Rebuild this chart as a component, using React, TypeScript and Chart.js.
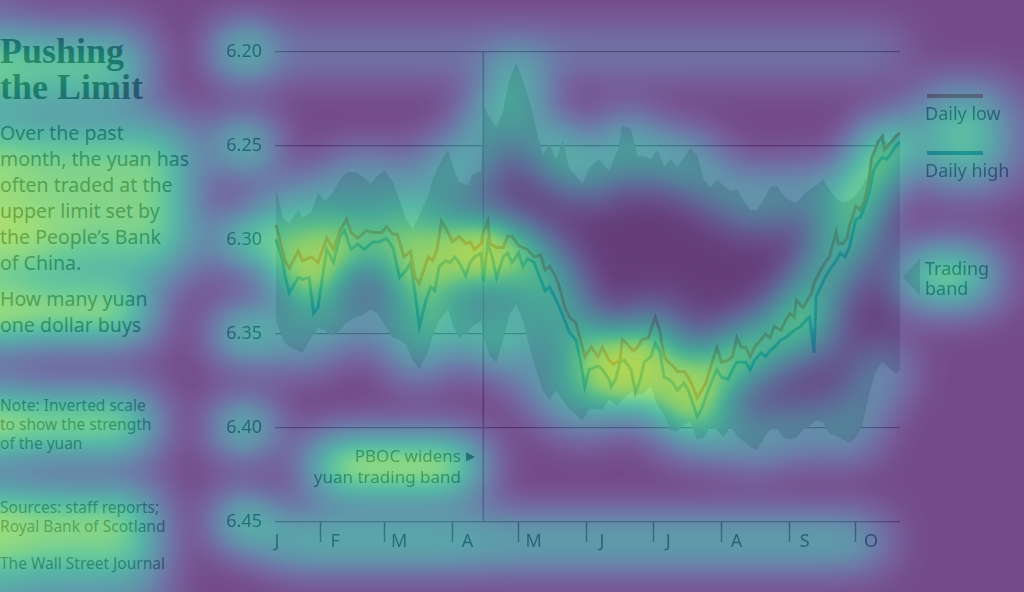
import React, { useEffect, useRef } from "react";
import { Chart, registerables } from "chart.js";

Chart.register(...registerables);

// ---------- data ----------
const monthTickDays = [4.6, 31, 60, 91, 121, 152, 182, 213, 244, 274];
const monthLabels = ["J", "F", "M", "A", "M", "J", "J", "A", "S", "O"];
const yTicks = [6.2, 6.25, 6.3, 6.35, 6.4, 6.45];
const pbocDay = 105;

const lowDays = [11,15,17,21,23,27,30,34,37,40,43,45,48,52,55,59,61,64,66,69,72,74,76,80,82,84,86,89,91,94,97,99,101,104,105,107,108,111,114,116,118,121,123,125,128,131,133,135,138,140,142,144,147,149,151,154,157,159,162,164,167,168,170,173,175,177,180,182,183,185,187,189,191,193,196,198,200,202,204,206,209,211,213,216,218,220,222,224,226,228,231,233,235,237,240,242,244,246,247,250,252,254,255,258,260,262,265,266,268,270,271,274,276,278,280,281,284,286,287,290,292,294];
const lowValues = [6.292,6.311,6.315,6.306,6.311,6.309,6.312,6.299,6.305,6.295,6.289,6.296,6.299,6.295,6.296,6.296,6.293,6.297,6.297,6.309,6.306,6.320,6.323,6.309,6.311,6.305,6.290,6.296,6.301,6.298,6.302,6.301,6.305,6.302,6.296,6.290,6.302,6.304,6.304,6.298,6.298,6.303,6.304,6.305,6.309,6.308,6.316,6.314,6.320,6.327,6.336,6.341,6.344,6.353,6.362,6.357,6.362,6.357,6.364,6.366,6.364,6.353,6.355,6.359,6.357,6.353,6.352,6.344,6.341,6.348,6.362,6.365,6.367,6.370,6.370,6.373,6.378,6.384,6.380,6.376,6.364,6.357,6.365,6.364,6.362,6.352,6.357,6.357,6.362,6.357,6.353,6.350,6.352,6.346,6.348,6.343,6.339,6.341,6.332,6.336,6.332,6.328,6.323,6.316,6.312,6.309,6.296,6.302,6.302,6.299,6.293,6.282,6.284,6.279,6.268,6.257,6.248,6.245,6.252,6.248,6.245,6.243];

const highDays = [11,14,15,17,21,23,26,28,30,32,34,37,40,42,45,48,51,55,58,61,64,67,70,72,74,76,79,81,83,85,88,90,92,94,97,99,101,104,105,107,109,111,114,116,118,121,123,125,128,131,133,135,138,140,142,144,147,149,151,153,157,159,162,163,165,167,169,172,174,176,178,181,183,185,187,189,191,193,196,198,200,202,204,206,209,211,213,216,218,220,222,224,226,228,231,233,235,237,240,242,244,246,249,251,253,255,256,258,260,262,265,267,269,271,274,276,278,280,282,284,286,288,290,292,294];
const highValues = [6.300,6.311,6.319,6.328,6.320,6.321,6.320,6.339,6.336,6.320,6.305,6.312,6.298,6.295,6.305,6.302,6.305,6.301,6.301,6.299,6.304,6.320,6.316,6.312,6.328,6.346,6.332,6.325,6.327,6.314,6.311,6.312,6.309,6.312,6.319,6.312,6.309,6.307,6.322,6.302,6.309,6.320,6.309,6.307,6.312,6.307,6.314,6.310,6.312,6.321,6.327,6.325,6.332,6.337,6.343,6.349,6.353,6.364,6.378,6.369,6.367,6.369,6.374,6.378,6.374,6.365,6.364,6.369,6.381,6.375,6.365,6.362,6.355,6.359,6.373,6.374,6.376,6.380,6.376,6.380,6.387,6.394,6.390,6.383,6.374,6.369,6.373,6.374,6.369,6.365,6.365,6.365,6.369,6.364,6.360,6.362,6.359,6.357,6.353,6.352,6.350,6.348,6.346,6.343,6.341,6.360,6.330,6.325,6.320,6.316,6.311,6.307,6.309,6.304,6.289,6.288,6.282,6.275,6.263,6.259,6.256,6.257,6.254,6.250,6.248];

const bandDays = [11,14,17,21,23,27,30,33,36,40,43,47,50,54,57,60,64,67,70,73,76,80,82,85,89,91,94,98,100,104,105,108,111,114,117,120,123,126,129,132,135,138,141,144,147,150,153,157,159,162,166,168,172,175,177,181,184,187,190,193,196,199,202,205,208,211,214,217,220,223,226,229,232,235,238,241,244,247,250,253,256,259,262,265,268,271,274,277,280,283,286,289,292,294];
const bandUpper = [6.273,6.288,6.291,6.284,6.288,6.285,6.275,6.279,6.276,6.268,6.264,6.264,6.266,6.270,6.266,6.263,6.269,6.279,6.289,6.294,6.287,6.276,6.268,6.260,6.252,6.260,6.269,6.271,6.265,6.263,6.229,6.235,6.240,6.231,6.214,6.206,6.215,6.226,6.241,6.255,6.249,6.257,6.247,6.262,6.266,6.270,6.262,6.257,6.259,6.263,6.252,6.239,6.241,6.256,6.255,6.257,6.252,6.261,6.257,6.261,6.256,6.251,6.255,6.268,6.272,6.268,6.271,6.274,6.273,6.279,6.284,6.284,6.279,6.272,6.271,6.276,6.279,6.280,6.276,6.273,6.271,6.268,6.273,6.278,6.280,6.279,6.276,6.271,6.264,6.253,6.247,6.248,6.245,6.244];
const bandLower = [6.343,6.353,6.357,6.359,6.360,6.352,6.347,6.348,6.351,6.348,6.344,6.341,6.340,6.337,6.339,6.345,6.352,6.353,6.356,6.364,6.369,6.359,6.351,6.343,6.337,6.345,6.352,6.349,6.346,6.343,6.351,6.362,6.365,6.353,6.339,6.334,6.343,6.357,6.369,6.380,6.385,6.380,6.385,6.390,6.393,6.396,6.390,6.390,6.390,6.385,6.388,6.385,6.381,6.382,6.382,6.378,6.388,6.393,6.401,6.402,6.398,6.397,6.406,6.405,6.399,6.401,6.405,6.399,6.404,6.407,6.410,6.412,6.406,6.401,6.400,6.405,6.406,6.405,6.401,6.399,6.396,6.397,6.403,6.404,6.406,6.408,6.405,6.398,6.382,6.370,6.365,6.368,6.371,6.369];

// ---------- style ----------
const W = 1024;
const H = 592;
const LOW_COLOR = "#b9553f";
const HIGH_COLOR = "#1f7fa3";
const BAND_COLOR = "#c4c8c0";
const TEXT = "#1e2a30";
const OVERLAY_OPACITY = 0.75;
const SIGMA = 22.5;

// viridis colour map
const VIR: number[][] = [
  [68, 1, 84], [72, 40, 120], [62, 73, 137], [49, 104, 142], [38, 130, 142],
  [31, 158, 137], [53, 183, 121], [110, 206, 88], [181, 222, 43], [253, 231, 37],
];

// attention sources (before blur): x0,y0,x1,y1,target level
const HEAT_RECTS: number[][] = [
  [0, 0, 14, 592, 0.1],
  [0, 37, 143, 100, 0.58],
  [0, 125, 190, 272, 0.7],
  [0, 225, 60, 262, 0.1],
  [0, 292, 150, 333, 0.68],
  [0, 398, 152, 450, 0.66],
  [0, 500, 155, 535, 0.63],
  [0, 556, 158, 574, 0.46],
  [268, 533, 880, 550, 0.38],
  [268, 533, 480, 550, 0.06],
  [313, 447, 478, 486, 0.74],
  [922, 93, 1005, 181, 0.55],
  [903, 258, 990, 296, 0.6],
  [275, 50, 900, 54, 0.16],
  [295, 255, 340, 280, 0.14],
  [440, 238, 490, 262, 0.14],
  [595, 350, 640, 378, 0.13],
  [680, 375, 705, 398, 0.12],
];
const Y_LABEL_HEAT = 0.42;
const LINE_AMP = 2.2;
const EDGE_AMP = 3.4;

function erf(x: number) {
  const t = 1 / (1 + 0.3275911 * x);
  return 1 - ((((1.061405429 * t - 1.453152027) * t + 1.421413741) * t - 0.284496736) * t + 0.254829592) * t * Math.exp(-x * x);
}

function viridis(t: number): number[] {
  const s = Math.max(0, Math.min(1, t)) * (VIR.length - 1);
  const k = Math.min(VIR.length - 2, Math.floor(s));
  const f = s - k;
  const a = VIR[k];
  const b = VIR[k + 1];
  return [a[0] + (b[0] - a[0]) * f, a[1] + (b[1] - a[1]) * f, a[2] + (b[2] - a[2]) * f];
}

function boxBlur(src: Float32Array, w: number, h: number, r: number) {
  const tmp = new Float32Array(w * h);
  const n = 2 * r + 1;
  for (let y = 0; y < h; y++) {
    const row = y * w;
    let acc = 0;
    for (let x = -r; x <= r; x++) acc += src[row + Math.min(w - 1, Math.max(0, x))];
    for (let x = 0; x < w; x++) {
      tmp[row + x] = acc / n;
      acc += src[row + Math.min(w - 1, x + r + 1)] - src[row + Math.max(0, x - r)];
    }
  }
  for (let x = 0; x < w; x++) {
    let acc = 0;
    for (let y = -r; y <= r; y++) acc += tmp[Math.min(h - 1, Math.max(0, y)) * w + x];
    for (let y = 0; y < h; y++) {
      src[y * w + x] = acc / n;
      acc += tmp[Math.min(h - 1, y + r + 1) * w + x] - tmp[Math.max(0, y - r) * w + x];
    }
  }
}

function buildHeat(chart: any, overlay: HTMLCanvasElement) {
  const src = new Float32Array(W * H);
  const addRect = (x0: number, y0: number, x1: number, y1: number, target: number) => {
    const ew = x0 <= 0 ? 400 : x1 - x0;
    const eh = y1 - y0;
    const k = erf(ew / (2.828 * SIGMA)) * erf(eh / (2.828 * SIGMA));
    const v = target / Math.max(0.02, k);
    for (let y = Math.max(0, Math.round(y0)); y < Math.min(H, Math.round(y1)); y++) {
      for (let x = Math.max(0, Math.round(x0)); x < Math.min(W, Math.round(x1)); x++) src[y * W + x] += v;
    }
  };
  HEAT_RECTS.forEach((r) => addRect(r[0], r[1], r[2], r[3], r[4]));
  const ys = chart.scales.y;
  const xs = chart.scales.x;
  yTicks.forEach((t) => {
    const py = ys.getPixelForValue(t);
    addRect(226, py - 8, 262, py + 8, Y_LABEL_HEAT);
  });

  // rasterise the lines (red channel) and band edges (green channel)
  const off = document.createElement("canvas");
  off.width = W;
  off.height = H;
  const c = off.getContext("2d")!;
  c.globalCompositeOperation = "lighter";
  c.lineJoin = "round";
  c.lineCap = "round";
  const strokeSeries = (days: number[], vals: number[], color: string, width: number) => {
    c.beginPath();
    days.forEach((d, i) => {
      const px = xs.getPixelForValue(d);
      const py = ys.getPixelForValue(vals[i]);
      if (i === 0) c.moveTo(px, py);
      else c.lineTo(px, py);
    });
    c.strokeStyle = color;
    c.lineWidth = width;
    c.stroke();
  };
  strokeSeries(lowDays, lowValues, "rgb(128,0,0)", 7);
  strokeSeries(highDays, highValues, "rgb(127,0,0)", 7);
  strokeSeries(bandDays, bandUpper, "rgb(0,255,0)", 3);
  strokeSeries(bandDays, bandLower, "rgb(0,255,0)", 3);
  const img = c.getImageData(0, 0, W, H).data;
  for (let i = 0; i < W * H; i++) {
    src[i] += Math.min(1, (img[i * 4] / 255) * 1.4) * LINE_AMP + (img[i * 4 + 1] / 255) * EDGE_AMP;
  }

  const r = Math.round((Math.sqrt(4 * SIGMA * SIGMA + 1) - 1) / 2);
  boxBlur(src, W, H, r);
  boxBlur(src, W, H, r);
  boxBlur(src, W, H, r);

  const octx = overlay.getContext("2d")!;
  const out = octx.createImageData(W, H);
  for (let i = 0; i < W * H; i++) {
    let f = 0.04 + src[i];
    if (f > 0.72) f = 0.72 + 0.2 * (1 - Math.exp(-(f - 0.72) / 0.2));
    const col = viridis(f);
    out.data[i * 4] = col[0];
    out.data[i * 4 + 1] = col[1];
    out.data[i * 4 + 2] = col[2];
    out.data[i * 4 + 3] = 255;
  }
  octx.putImageData(out, 0, 0);
}

const abs = (left: number, top: number, extra: React.CSSProperties = {}): React.CSSProperties => ({
  position: "absolute",
  left,
  top,
  whiteSpace: "nowrap",
  ...extra,
});

export default function App() {
  const canvasRef = useRef<HTMLCanvasElement>(null);
  const overlayRef = useRef<HTMLCanvasElement>(null);

  useEffect(() => {
    if (!canvasRef.current) return;
    const toXY = (days: number[], vals: number[]) => days.map((d, i) => ({ x: d, y: vals[i] }));
    const chart = new Chart(canvasRef.current, {
      type: "line",
      data: {
        datasets: [
          { label: "Daily low", data: toXY(lowDays, lowValues), borderColor: LOW_COLOR, borderWidth: 3, pointRadius: 0, tension: 0, fill: false, order: 0 },
          { label: "Daily high", data: toXY(highDays, highValues), borderColor: HIGH_COLOR, borderWidth: 3, pointRadius: 0, tension: 0, fill: false, order: 1 },
          { label: "PBOC", data: [{ x: pbocDay, y: yTicks[0] }, { x: pbocDay, y: yTicks[yTicks.length - 1] }], borderColor: "#8c8c8c", borderWidth: 1.5, pointRadius: 0, fill: false, order: 2 },
          { label: "band upper", data: toXY(bandDays, bandUpper), borderWidth: 0, borderColor: "rgba(0,0,0,0)", pointRadius: 0, tension: 0, fill: false, order: 4 },
          { label: "Trading band", data: toXY(bandDays, bandLower), borderWidth: 0, borderColor: "rgba(0,0,0,0)", backgroundColor: BAND_COLOR, pointRadius: 0, tension: 0, fill: "-1", order: 3 },
        ],
      },
      options: {
        responsive: false,
        animation: false,
        maintainAspectRatio: false,
        layout: { padding: { left: 215, right: 124, top: 52, bottom: 0 } },
        plugins: { legend: { display: false }, tooltip: { enabled: false } },
        scales: {
          x: {
            type: "linear",
            min: 10.5,
            max: 294,
            position: "bottom",
            afterBuildTicks: (s: any) => {
              s.ticks = monthTickDays.map((v) => ({ value: v }));
            },
            afterFit: (s: any) => {
              s.height = 70;
            },
            grid: {
              drawOnChartArea: false,
              drawTicks: true,
              tickLength: 20,
              tickWidth: 1.5,
              tickColor: (ctx: any) => (ctx.index === 0 ? "rgba(0,0,0,0)" : "#555"),
            },
            border: { display: false },
            ticks: {
              autoSkip: false,
              maxRotation: 0,
              labelOffset: 15,
              padding: -11,
              color: TEXT,
              font: { family: "Noto Sans", size: 18 },
              callback: (_v: any, i: number) => monthLabels[i],
            },
          },
          y: {
            type: "linear",
            reverse: true,
            min: 6.2,
            max: 6.45,
            afterBuildTicks: (s: any) => {
              s.ticks = yTicks.map((v) => ({ value: v }));
            },
            afterFit: (s: any) => {
              s.width = 60;
            },
            grid: { color: "#7a7a7a", lineWidth: 1.2, drawTicks: false },
            border: { display: false },
            ticks: {
              padding: 13,
              color: TEXT,
              font: { family: "Noto Sans", size: 18 },
              callback: (v: any) => Number(v).toFixed(2),
            },
          },
        },
      },
    } as any);
    if (overlayRef.current) buildHeat(chart, overlayRef.current);
    return () => chart.destroy();
  }, []);

  const sans = "'Noto Sans', 'DejaVu Sans', sans-serif";
  return (
    <div style={{ position: "fixed", left: 0, top: 0, width: W, height: H, background: "#fff", overflow: "hidden", fontFamily: sans, color: "#2b2b2b" }}>
      <div style={abs(0, 33, { fontFamily: "'Liberation Serif', serif", fontWeight: 700, fontSize: 36, lineHeight: "36px", color: "#1a1a1a" })}>
        Pushing<br />the Limit
      </div>
      <div style={abs(0, 119.5, { fontSize: 19.5, lineHeight: "26px" })}>
        Over the past<br />month, the yuan has<br />often traded at the<br />upper limit set by<br />the People’s Bank<br />of China.
      </div>
      <div style={abs(0, 285.5, { fontSize: 19.5, lineHeight: "26px" })}>
        How many yuan<br />one dollar buys
      </div>
      <div style={abs(0, 395.5, { fontSize: 15.5, lineHeight: "19px", color: "#3a3a3a" })}>
        Note: Inverted scale<br />to show the strength<br />of the yuan
      </div>
      <div style={abs(0, 497.5, { fontSize: 15.5, lineHeight: "19px", color: "#3a3a3a" })}>
        Sources: staff reports;<br />Royal Bank of Scotland
      </div>
      <div style={abs(0, 553.5, { fontSize: 15.5, lineHeight: "19px", color: "#3a3a3a" })}>
        The Wall Street Journal
      </div>

      <canvas ref={canvasRef} width={W} height={H} style={{ position: "absolute", left: 0, top: 0, width: W, height: H }} />

      <div style={abs(0, 445, { width: 461, textAlign: "right", fontSize: 17, lineHeight: "21px", color: "#2b2b2b" })}>
        PBOC widens<br />yuan trading band
      </div>
      <div style={abs(466, 446, { fontSize: 12, lineHeight: "21px", fontFamily: "'DejaVu Sans', sans-serif", color: "#2b2b2b" })}>▶</div>

      <div style={abs(927, 94, { width: 56, height: 4, background: LOW_COLOR })} />
      <div style={abs(925, 103, { fontSize: 18, lineHeight: "20px", color: TEXT })}>Daily low</div>
      <div style={abs(927, 151, { width: 56, height: 4, background: HIGH_COLOR })} />
      <div style={abs(925, 160, { fontSize: 18, lineHeight: "20px", color: TEXT })}>Daily high</div>
      <div style={abs(903, 258, { width: 0, height: 0, borderTop: "19px solid transparent", borderBottom: "19px solid transparent", borderRight: `17px solid ${BAND_COLOR}` })} />
      <div style={abs(925, 258, { fontSize: 18, lineHeight: "20px", color: TEXT })}>Trading<br />band</div>

      <canvas ref={overlayRef} width={W} height={H} style={{ position: "absolute", left: 0, top: 0, width: W, height: H, opacity: OVERLAY_OPACITY, pointerEvents: "none" }} />
    </div>
  );
}
